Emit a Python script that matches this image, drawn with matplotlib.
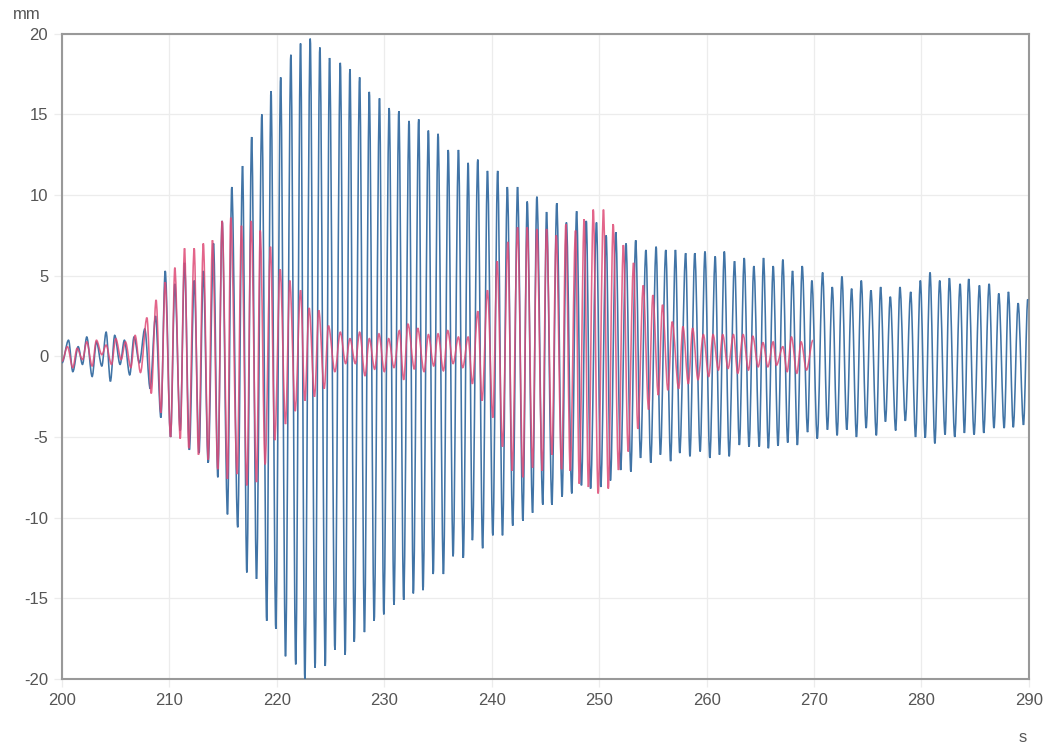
import matplotlib
matplotlib.use('Agg')
import matplotlib.pyplot as plt
from matplotlib.path import Path
from matplotlib.patches import PathPatch
import numpy as np

plt.rcParams['font.family'] = ['Liberation Sans', 'DejaVu Sans']
plt.rcParams['axes.unicode_minus'] = False

BLUE = '#4174a6'
RED = '#de4a76'
GREY = '#999999'
GRID = '#ececec'
TXT = '#555555'

# blue trace: crests and troughs (s, mm)
blue_peak_t = [200.6, 201.5, 202.3, 203.2, 204.1, 204.9, 205.8, 206.7, 207.7, 208.7,
               209.6, 210.5, 211.4, 212.3, 213.15, 214.1, 214.9, 215.8, 216.8, 217.65,
               218.6, 219.45, 220.35, 221.3, 222.2, 223.1, 224.0, 224.9, 225.9, 226.8,
               227.7, 228.6, 229.55, 230.45, 231.35, 232.3, 233.2, 234.1, 235.0, 235.95,
               236.9, 237.8, 238.7, 239.6, 240.55, 241.45, 242.4, 243.3, 244.2, 245.1,
               246.05, 246.95, 247.9, 248.8, 249.75, 250.65, 251.55, 252.5, 253.4, 254.35,
               255.3, 256.2, 257.1, 258.05, 258.9, 259.85, 260.8, 261.65, 262.6, 263.5,
               264.4, 265.3, 266.2, 267.1, 268.0, 268.9, 269.8, 270.8, 271.7, 272.6,
               273.5, 274.4, 275.3, 276.2, 277.1, 278.0, 279.0, 279.9, 280.8, 281.7,
               282.6, 283.6, 284.4, 285.4, 286.3, 287.2, 288.1, 289.0, 289.9]
blue_peak_v = [1.0, 0.6, 1.2, 0.9, 1.5, 1.3, 1.0, 1.2, 1.7, 2.5,
               5.3, 4.5, 5.8, 4.7, 5.3, 7.0, 8.4, 10.5, 11.8, 13.6,
               15.0, 16.45, 17.3, 18.7, 19.4, 19.7, 19.15, 18.5, 18.2, 17.8,
               17.3, 16.4, 16.0, 15.4, 15.2, 14.6, 14.7, 14.0, 13.8, 12.8,
               12.8, 12.0, 12.2, 11.5, 11.5, 10.5, 10.5, 9.6, 9.9, 8.95,
               9.5, 8.3, 9.0, 8.4, 8.3, 7.5, 7.7, 7.0, 7.2, 6.6,
               6.8, 6.6, 6.6, 6.4, 6.4, 6.5, 6.2, 6.5, 5.9, 6.1,
               5.6, 6.1, 5.6, 6.0, 5.3, 5.6, 4.7, 5.2, 4.3, 4.95,
               4.2, 4.7, 4.1, 4.3, 3.7, 4.3, 4.0, 4.7, 5.2, 4.7,
               4.85, 4.5, 4.8, 4.4, 4.5, 3.9, 4.0, 3.3, 3.55]
blue_trough_t = [200.0, 201.0, 201.9, 202.8, 203.7, 204.5, 205.4, 206.3, 207.2, 208.2,
                 209.2, 210.1, 211.0, 211.85, 212.75, 213.6, 214.5, 215.4, 216.35, 217.2,
                 218.1, 219.05, 219.9, 220.8, 221.75, 222.6, 223.55, 224.5, 225.4, 226.35,
                 227.2, 228.15, 229.05, 229.95, 230.9, 231.8, 232.7, 233.6, 234.55, 235.5,
                 236.4, 237.35, 238.2, 239.15, 240.1, 241.0, 241.95, 242.9, 243.8, 244.75,
                 245.6, 246.55, 247.45, 248.35, 249.2, 250.15, 251.05, 252.0, 252.95, 253.85,
                 254.8, 255.7, 256.65, 257.5, 258.45, 259.4, 260.3, 261.2, 262.1, 263.05,
                 263.95, 264.9, 265.75, 266.65, 267.55, 268.45, 269.4, 270.3, 271.25, 272.15,
                 273.05, 273.95, 274.85, 275.8, 276.65, 277.6, 278.5, 279.45, 280.35, 281.25,
                 282.2, 283.1, 284.0, 284.9, 285.8, 286.75, 287.7, 288.55, 289.5]
blue_trough_v = [-0.4, -0.95, -0.5, -1.25, -0.6, -1.55, -0.5, -1.15, -0.4, -2.0,
                 -3.8, -5.0, -4.6, -5.8, -6.0, -6.6, -7.5, -9.8, -10.6, -13.4,
                 -13.8, -16.4, -16.9, -18.6, -19.1, -20.0, -19.3, -19.2, -18.2, -18.5,
                 -17.7, -17.1, -16.4, -16.0, -15.4, -15.1, -14.7, -14.5, -13.5, -13.5,
                 -12.4, -12.5, -11.4, -11.9, -11.1, -11.1, -10.5, -10.2, -9.7, -9.2,
                 -9.2, -8.7, -8.5, -8.0, -8.2, -8.1, -7.7, -7.05, -7.15, -6.3,
                 -6.6, -6.1, -6.5, -6.0, -6.2, -5.9, -6.3, -6.1, -6.2, -5.5,
                 -5.6, -5.6, -5.7, -5.55, -5.35, -5.5, -4.7, -5.1, -4.55, -4.9,
                 -4.55, -5.0, -4.45, -4.9, -4.05, -4.6, -4.0, -5.0, -5.05, -5.4,
                 -4.85, -5.0, -4.75, -4.85, -4.75, -4.45, -4.45, -4.4, -4.25]

# red trace
red_peak_t = [200.5, 201.4, 202.3, 203.2, 204.1, 205.0, 205.9, 206.8, 207.9, 208.75,
              209.6, 210.5, 211.4, 212.3, 213.15, 214.0, 214.9, 215.7, 216.7, 217.6,
              218.45, 219.4, 220.3, 221.2, 222.2, 223.0, 223.9, 224.8, 225.9, 226.8,
              227.7, 228.6, 229.5, 230.4, 231.4, 232.2, 233.1, 234.1, 235.0, 235.9,
              236.9, 237.8, 238.7, 239.6, 240.5, 241.5, 242.4, 243.3, 244.2, 245.1,
              246.0, 246.9, 247.8, 248.6, 249.45, 250.4, 251.3, 252.25, 253.2, 254.1,
              255.0, 255.9, 256.8, 257.8, 258.7, 259.7, 260.6, 261.5, 262.5, 263.4,
              264.3, 265.25, 266.2, 267.1, 267.9, 268.8, 269.9]
red_peak_v = [0.6, 0.5, 0.9, 1.0, 0.7, 1.1, 0.9, 1.3, 2.4, 3.5,
              4.6, 5.5, 6.7, 6.7, 7.0, 7.2, 8.4, 8.6, 8.1, 8.4,
              7.8, 6.8, 5.4, 4.7, 4.1, 3.0, 2.85, 1.9, 1.5, 1.1,
              1.5, 1.1, 1.4, 1.1, 1.6, 2.0, 1.75, 1.35, 1.4, 1.6,
              1.2, 1.2, 2.8, 4.1, 5.9, 7.1, 8.0, 8.0, 7.9, 7.9,
              7.5, 8.2, 7.8, 8.5, 9.1, 9.1, 8.2, 6.9, 5.8, 4.4,
              3.8, 3.2, 2.15, 1.85, 1.75, 1.35, 1.35, 1.35, 1.35, 1.35,
              1.25, 0.85, 0.9, 0.6, 1.2, 0.9, 1.0]
red_trough_t = [200.0, 201.0, 201.9, 202.8, 203.7, 204.6, 205.5, 206.4, 207.3, 208.3,
                209.2, 210.1, 211.0, 211.8, 212.7, 213.6, 214.5, 215.4, 216.3, 217.2,
                218.1, 218.9, 219.8, 220.8, 221.7, 222.6, 223.5, 224.4, 225.4, 226.4,
                227.3, 228.2, 229.1, 230.0, 230.9, 231.8, 232.8, 233.7, 234.6, 235.5,
                236.4, 237.3, 238.2, 239.1, 240.1, 241.0, 241.9, 242.9, 243.8, 244.7,
                245.6, 246.5, 247.3, 248.15, 249.0, 249.9, 250.85, 251.8, 252.7, 253.6,
                254.6, 255.5, 256.4, 257.4, 258.3, 259.2, 260.2, 261.1, 262.0, 262.9,
                263.9, 264.8, 265.7, 266.5, 267.5, 268.4, 269.3]
red_trough_v = [-0.3, -0.7, -0.2, -0.6, 0.1, -0.5, -0.2, -0.7, -1.0, -2.3,
                -3.5, -5.0, -5.1, -5.7, -6.1, -6.4, -7.0, -7.6, -7.3, -8.0,
                -7.8, -6.7, -5.2, -4.2, -3.4, -2.75, -2.5, -2.0, -0.95, -0.45,
                -0.45, -1.2, -0.8, -0.95, -0.7, -1.45, -0.8, -0.95, -0.6, -0.9,
                -0.45, -0.7, -1.7, -2.75, -3.8, -5.6, -7.1, -7.5, -6.9, -7.1,
                -6.1, -7.0, -7.1, -7.9, -8.1, -8.5, -8.2, -7.05, -5.9, -4.5,
                -3.3, -2.4, -2.1, -2.0, -1.7, -1.45, -1.25, -0.85, -0.75, -1.05,
                -0.85, -0.65, -0.65, -0.55, -0.95, -1.05, -0.85]

x_ticks = [200, 210, 220, 230, 240, 250, 260, 270, 280, 290]
y_ticks = [-20, -15, -10, -5, 0, 5, 10, 15, 20]


def trace(pt, pv, tt, tv):
    t = np.array(pt + tt)
    v = np.array(pv + tv)
    order = np.argsort(t)
    return t[order], v[order]


def smooth_path(t, v):
    # spline-style line through the extrema: cubic segments, flat at each crest/trough
    verts = [(t[0], v[0])]
    codes = [Path.MOVETO]
    for i in range(1, len(t)):
        dt = t[i] - t[i - 1]
        verts += [(t[i - 1] + dt / 3, v[i - 1]), (t[i] - dt / 3, v[i]), (t[i], v[i])]
        codes += [Path.CURVE4] * 3
    return Path(verts, codes)


bt, bv = trace(blue_peak_t, blue_peak_v, blue_trough_t, blue_trough_v)
rt, rv = trace(red_peak_t, red_peak_v, red_trough_t, red_trough_v)

fig = plt.figure(figsize=(10.52, 7.51), dpi=100)
ax = fig.add_axes([0.059, 0.096, 0.919, 0.859])

ax.add_patch(PathPatch(smooth_path(bt, bv), fill=False, edgecolor=BLUE, lw=1.15, zorder=3))
ax.add_patch(PathPatch(smooth_path(rt, rv), fill=False, edgecolor=RED, lw=1.15,
                       alpha=0.85, zorder=4))

ax.set_xlim(200, 290)
ax.set_ylim(-20, 20)
ax.set_xticks(x_ticks)
ax.set_yticks(y_ticks)
ax.grid(True, color=GRID, lw=0.9, zorder=0)
ax.tick_params(colors=GRID, labelcolor=TXT, labelsize=12, length=6, width=0.9, pad=4)
for s in ax.spines.values():
    s.set_color(GREY)
    s.set_linewidth(1.5)

fig.text(0.012, 0.981, 'mm', fontsize=12, color=TXT, ha='left', va='center')
fig.text(0.968, 0.008, 's', fontsize=12, color=TXT, ha='left', va='bottom')

fig.savefig('out.png', dpi=100, facecolor='white')
